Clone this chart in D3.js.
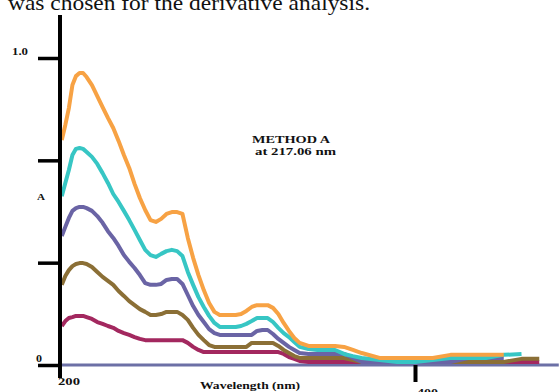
<!DOCTYPE html>
<html>
<head>
<meta charset="utf-8">
<script src="https://cdn.jsdelivr.net/npm/d3@7/dist/d3.min.js"></script>
<style>
	body { margin: 0; background: #fff; }
	svg { display: block; }
	text { font-family: "Liberation Serif", "Times New Roman", serif; fill: #111; }
</style>
</head>
<body>
<svg id="chart" width="560" height="392"></svg>
<script>
// wavelength grid (nm), shared by every spectrum
const wavelength = [201, 203, 205, 207, 209, 211, 213, 215, 218, 221, 224, 227, 230, 233, 236, 239, 242, 245,
	248, 251, 254, 257, 260, 263, 266, 269, 272, 275, 278, 281, 284, 287, 290, 293, 296, 299, 302, 305,
	308, 311, 314, 317, 320, 323, 326, 329, 332, 335, 340, 345, 350, 355, 360, 365, 370, 380, 390, 400,
	410, 420, 430, 440, 450, 460, 470, 480];

// absorbance (null = no trace)
const orangeA = [0.733, 0.782, 0.837, 0.912, 0.941, 0.951, 0.951, 0.938,
	0.912, 0.876, 0.840, 0.805, 0.772, 0.730, 0.684, 0.642, 0.590, 0.544,
	0.505, 0.472, 0.466, 0.476, 0.492, 0.498, 0.498, 0.492,
	0.414, 0.349, 0.293, 0.244, 0.202, 0.173,
	0.163, 0.163, 0.163, 0.163, 0.166, 0.176,
	0.189, 0.195, 0.195, 0.195, 0.186, 0.166,
	0.137, 0.111, 0.088, 0.072,
	0.062, 0.062, 0.062, 0.062, 0.059,
	0.049, 0.039,
	0.023, 0.023, 0.023, 0.023,
	0.033, 0.033, 0.033, 0.033,
	null, null, null];
const tealA = [0.550, 0.593, 0.635, 0.684, 0.704, 0.707, 0.704, 0.694,
	0.678, 0.655, 0.625, 0.593, 0.557, 0.531, 0.502, 0.472, 0.440, 0.407,
	0.375, 0.358, 0.352, 0.362, 0.371, 0.375, 0.371, 0.355,
	0.303, 0.261, 0.221, 0.189, 0.160, 0.137,
	0.124, 0.124, 0.124, 0.124, 0.127, 0.134,
	0.143, 0.153, 0.153, 0.153, 0.140, 0.121,
	0.104, 0.091, 0.075, 0.059,
	0.052, 0.049, 0.049, 0.049, 0.036,
	0.029, 0.023,
	0.016, 0.010, 0.010, 0.016,
	0.023, 0.023, 0.023, 0.033, 0.036, null,
	null];
const slateA = [0.420, 0.450, 0.479, 0.502, 0.511, 0.515, 0.515, 0.511,
	0.502, 0.485, 0.463, 0.436, 0.414, 0.388, 0.358, 0.336, 0.316, 0.293,
	0.267, 0.261, 0.261, 0.264, 0.277, 0.280, 0.280, 0.264,
	0.228, 0.192, 0.163, 0.140, 0.117, 0.104,
	0.098, 0.098, 0.098, 0.098, 0.098, 0.098,
	0.098,
	0.111, 0.114, 0.114,
	0.101, 0.085, 0.072, 0.059, 0.049, 0.039,
	0.036, 0.036, 0.036, 0.036, 0.036,
	0.023,
	0.010, 0.010, 0.010, 0.010, 0.010, 0.010,
	0.023, 0.023, 0.023,
	null, null, null];
const brownA = [0.261, 0.290, 0.309, 0.322, 0.329, 0.332, 0.332, 0.329,
	0.319, 0.303, 0.287, 0.274, 0.261, 0.241, 0.225, 0.208, 0.195, 0.182,
	0.173, 0.163, 0.163, 0.166, 0.173, 0.173, 0.173, 0.163,
	0.147, 0.121, 0.098, 0.081, 0.065,
	0.059, 0.059, 0.059, 0.059, 0.059, 0.059, 0.059,
	0.072, 0.072, 0.072, 0.072, 0.072,
	0.062, 0.049, 0.039, 0.029, 0.023,
	0.023, 0.023, 0.023, 0.023, 0.023,
	0.016,
	0.010, 0.010, 0.010, 0.010, 0.010, 0.010, 0.010, 0.010, 0.010,
	0.020, 0.020,
	null];
const magentaA = [0.127, 0.143, 0.153, 0.156, 0.160, 0.160, 0.160, 0.156,
	0.150, 0.140, 0.134, 0.127, 0.121, 0.111, 0.104, 0.098, 0.091, 0.085,
	0.081, 0.081, 0.081, 0.081, 0.081, 0.081, 0.081, 0.081,
	0.072, 0.059, 0.049, 0.042,
	0.042, 0.042, 0.042, 0.042, 0.042, 0.042, 0.042, 0.042, 0.042, 0.042, 0.042, 0.042, 0.042, 0.042,
	0.036, 0.026, 0.020, 0.013,
	0.010, 0.010, 0.010, 0.010, 0.010, 0.010, 0.010, 0.010, 0.010, 0.010, 0.010, 0.010, 0.010, 0.010, 0.010, 0.010, 0.010,
	null];

// blank baseline
const blankWl = [200, 481];
const blankA = [0, 0];

const seriesNames = ["magenta", "brown", "slate", "teal", "orange"];
const seriesValues = [magentaA, brownA, slateA, tealA, orangeA];
const seriesColors = ["#a3285f", "#8b6f36", "#6a64a5", "#37c6c4", "#f7a244"];

const yTickValues = [0, 1 / 3, 2 / 3, 1.0];
const yTickLabels = ["0", "", "", "1.0"];
const xTickValues = [400];
const xTickLabels = ["200", "400"];

const svg = d3.select("#chart");

// scales
const x = d3.scaleLinear().domain([200, 400]).range([60, 415]);
const y = d3.scaleLinear().domain([0, 1]).range([365, 58]);

// helper for the horizontally stretched bold labels of the scanned figure
function label(px, py, str, size, len, weight) {
	return svg.append("text")
		.attr("x", px).attr("y", py)
		.attr("font-size", size)
		.attr("font-weight", weight || "bold")
		.attr("textLength", len)
		.attr("lengthAdjust", "spacingAndGlyphs")
		.text(str);
}

// page text cut off at the top
label(8, 10, "was chosen for the derivative analysis.", 22, 362, "normal");

// baseline (blank)
svg.append("path")
	.datum(blankA)
	.attr("fill", "none")
	.attr("stroke", "#6c70a6")
	.attr("stroke-width", 3)
	.attr("d", d3.line().x((d, i) => x(blankWl[i])).y(d => y(d)));

// spectra
const line = d3.line()
	.defined(d => d != null)
	.x((d, i) => x(wavelength[i]))
	.y(d => y(d));

svg.append("g")
	.selectAll("path")
	.data(seriesValues)
	.join("path")
	.attr("class", (d, i) => "spec " + seriesNames[i])
	.attr("fill", "none")
	.attr("stroke", (d, i) => seriesColors[i])
	.attr("stroke-width", 4)
	.attr("stroke-linejoin", "round")
	.attr("d", line);

// y axis: ticks through d3.axisLeft, long black spine drawn apart
const yAxis = svg.append("g")
	.attr("transform", `translate(${x(200)},0)`)
	.call(d3.axisLeft(y).tickValues(yTickValues).tickSize(22).tickFormat(""));
yAxis.select(".domain").remove();
yAxis.selectAll(".tick line").attr("stroke", "#000").attr("stroke-width", 3.5);

svg.append("line")
	.attr("x1", x(200)).attr("x2", x(200))
	.attr("y1", y(1.14)).attr("y2", y(-0.042))
	.attr("stroke", "#000").attr("stroke-width", 4);

// x axis tick at 400
const xAxis = svg.append("g")
	.attr("transform", `translate(0,${y(0)})`)
	.call(d3.axisBottom(x).tickValues(xTickValues).tickSize(17).tickFormat(""));
xAxis.select(".domain").remove();
xAxis.selectAll(".tick line").attr("stroke", "#000").attr("stroke-width", 4);

// tick labels
label(12, y(1.0) - 3, yTickLabels[3], 9.5, 16);
label(36, y(0) - 3, yTickLabels[0], 9.5, 6);
label(37, 200, "A", 9, 8);
label(x(200) - 2, 385, xTickLabels[0], 11, 22);
label(x(400) + 2, 396, xTickLabels[1], 11, 21);
label(200, 389, "Wavelength (nm)", 10, 100);

// method annotation
label(252, 143, "METHOD A", 10.5, 78);
label(255, 155, "at 217.06 nm", 10.5, 81);
</script>
</body>
</html>
